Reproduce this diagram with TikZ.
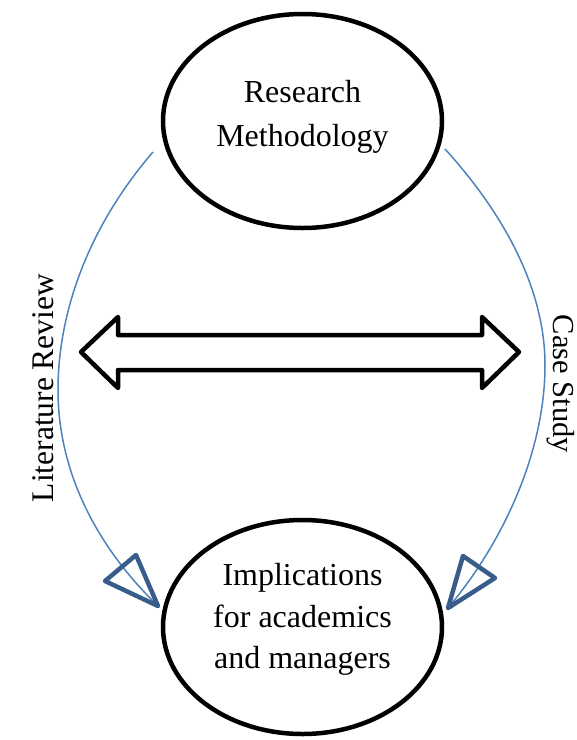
\documentclass[tikz,border=0pt]{standalone}
\usepackage{fontspec}
\setmainfont{Liberation Serif}
\usetikzlibrary{shapes.geometric}
\definecolor{arcblue}{HTML}{4F81BD}
\definecolor{headblue}{HTML}{385D8A}
\begin{document}
\begin{tikzpicture}[x=1pt,y=-1pt,
  oval/.style={ellipse, draw=black, line width=4.5pt, minimum width=279pt,
    minimum height=214pt, inner sep=0pt, fill=white},
  lbltop/.style={font=\fontsize{32}{44}\selectfont, align=center, inner sep=0pt},
  lblbot/.style={font=\fontsize{32}{41.5}\selectfont, align=center, inner sep=0pt},
  flow/.style={draw=arcblue, line width=1.5pt},
  headtri/.style={draw=headblue, line width=4.5pt, line join=round},
  bigarrow/.style={draw=black, line width=4.5pt, line join=round, fill=white},
  side/.style={font=\fontsize{31.5}{36}\selectfont, inner sep=0pt}]
\useasboundingbox (0,0) rectangle (577,740);

% ellipses
\node[oval, label={[lbltop, yshift=4pt]center:{Research\\Methodology}}] (rm) at (302.5,121) {};
\node[oval, label={[lblbot, yshift=7.5pt]center:{Implications\\for academics\\and managers}}] (imp) at (302.5,627) {};

% free ends of the curved connectors
\coordinate (lstart) at (153,152);
\coordinate (ltip) at (158,606);
\coordinate (rstart) at (445,149);
\coordinate (rtip) at (448,608);

% curved connectors
\draw[flow] (lstart) .. controls (90,225) and (58,310) .. (58,390)
  .. controls (58,470) and (95,545) .. (ltip);
\draw[flow] (rstart) .. controls (505,215) and (545,290) .. (545,365)
  .. controls (545,450) and (505,540) .. (rtip);

% open triangular heads
\draw[headtri] (ltip) -- (105,581) -- (136,555) -- cycle;
\draw[headtri] (rtip) -- (463,556) -- (495,578) -- cycle;

% double-headed block arrow
\draw[bigarrow] (81,352) -- (118,317) -- (118,335) -- (482,335) -- (482,317)
  -- (519,352) -- (482,388) -- (482,370) -- (118,370) -- (118,388) -- cycle;

% side labels
\node[side, rotate=90] (lit) at (43,388) {Literature Review};
\node[side, font=\fontsize{30.5}{36}\selectfont, rotate=-90] (case) at (561,384) {Case Study};
\end{tikzpicture}
\end{document}
